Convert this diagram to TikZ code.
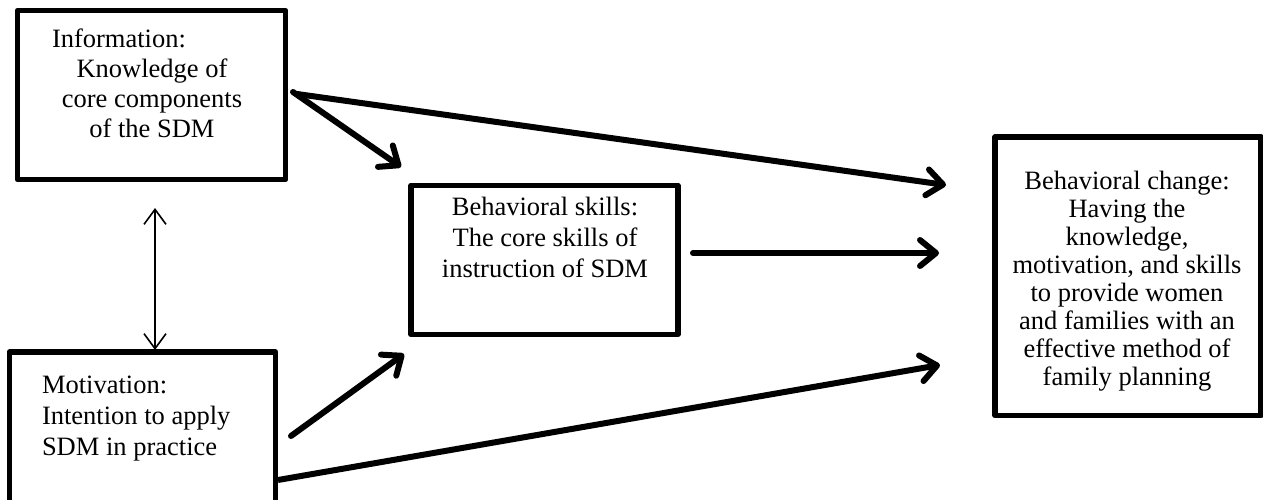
\documentclass[tikz,border=0pt]{standalone}
\usepackage{fontspec}
\setmainfont{Liberation Serif}
\usetikzlibrary{arrows.meta}
\tikzset{
  box/.style={draw=black, line width=5.5pt, line join=round, inner sep=0pt, outer sep=0pt},
  txt/.style={inner sep=0pt, outer sep=0pt, font=\fontsize{26.5}{30}\selectfont},
  thickarrow/.style={line width=6pt, line cap=round, -{Straight Barb[round, length=16pt, width=26pt]}},
  thinarrow/.style={line width=1.6pt, {Straight Barb[length=15pt, width=22pt]}-{Straight Barb[length=15pt, width=22pt]}},
}
\begin{document}
\begin{tikzpicture}[x=1pt, y=-1pt]
\useasboundingbox (0,0) rectangle (1263,500);
\begin{scope}
\clip (0,0) rectangle (1263,500);
% boxes
\node[box, anchor=north west, minimum width=268pt, minimum height=169pt] (info) at (17.5,10.5) {};
\node[box, anchor=north west, minimum width=266pt, minimum height=160pt] (mot) at (9.5,352) {};
\node[box, anchor=north west, minimum width=267pt, minimum height=149pt] (skills) at (411,185.5) {};
\node[box, anchor=north west, minimum width=266pt, minimum height=278.5pt] (change) at (995,137) {};
\end{scope}
% texts (base anchor = baseline of the last line)
\node[txt, anchor=base west] (infotitle) at (52,48) {Information:};
\node[txt, anchor=base, align=center] (infobody) at (152,138) {Knowledge of\\core components\\of the SDM};
\node[txt, anchor=base west, align=left, font=\fontsize{26.5}{31}\selectfont] (mottext) at (42,455) {Motivation:\\Intention to apply\\SDM in practice};
\node[txt, anchor=base, align=center, font=\fontsize{26.5}{31}\selectfont] (skillstext) at (545,277) {Behavioral skills:\\The core skills of\\instruction of SDM};
\node[txt, anchor=base, align=center, font=\fontsize{26.5}{28}\selectfont] (changetext) at (1127,385) {Behavioral change:\\Having the\\knowledge,\\motivation, and skills\\to provide women\\and families with an\\effective method of\\family planning};
% connector end points
\coordinate (a1s) at (297,94);
\coordinate (a1e) at (946,185);
\coordinate (a2s) at (293,92);
\coordinate (a2e) at (401,167);
\coordinate (a3s) at (693,253);
\coordinate (a3e) at (939,253);
\coordinate (a4s) at (291,436);
\coordinate (a4e) at (404,354);
\coordinate (a5s) at (278,480);
\coordinate (a5e) at (940,365);
\coordinate (dtop) at (155,208);
\coordinate (dbot) at (155,350);
% connectors
\draw[thickarrow] (a1s) -- (a1e);
\draw[thickarrow] (a2s) -- (a2e);
\draw[thickarrow] (a3s) -- (a3e);
\draw[thickarrow] (a4s) -- (a4e);
\draw[thickarrow, line cap=butt] (a5s) -- (a5e);
\draw[thinarrow] (dtop) -- (dbot);
\end{tikzpicture}
\end{document}
